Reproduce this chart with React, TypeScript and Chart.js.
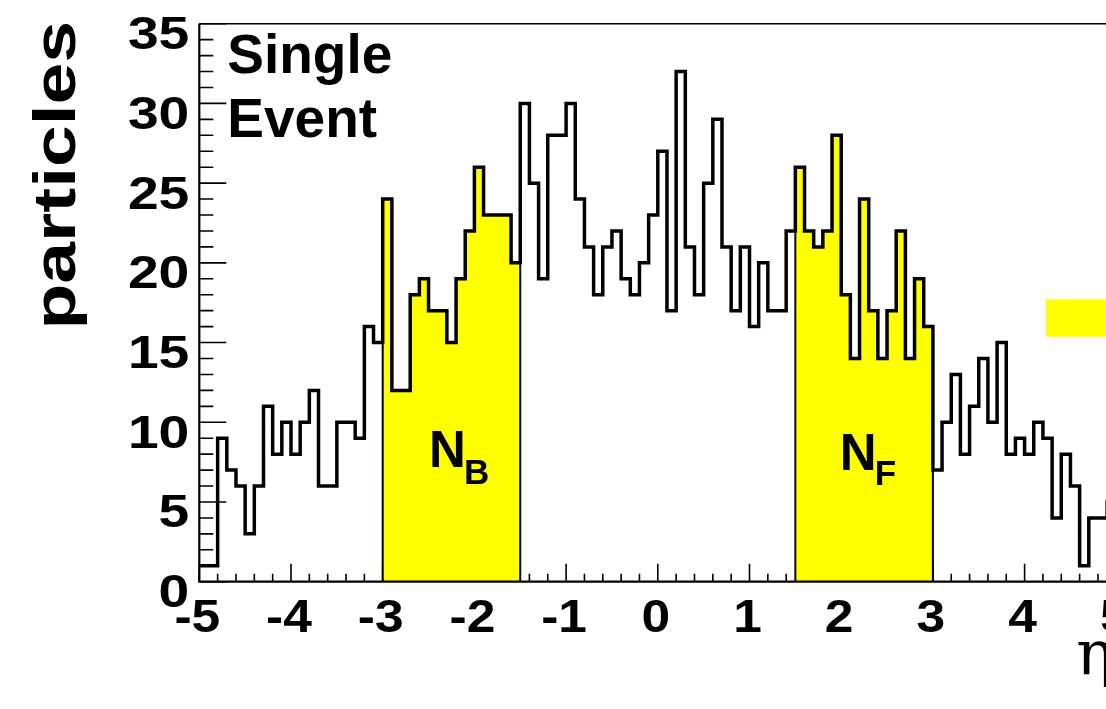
import React, { useEffect, useRef } from "react";
import { Chart, registerables } from "chart.js";

Chart.register(...registerables);

// η binning: 100 bins of width 0.1 over [-5, 5]
const etaLow = -5;
const etaHigh = 5;
const binWidth = 0.1;

// particles per η bin in a single event
const particleCounts = [
  1, 1, 9, 7, 6, 3, 6, 11, 8, 10,
  8, 10, 12, 6, 6, 10, 10, 9, 16, 15,
  24, 12, 12, 18, 19, 17, 17, 15, 19, 22,
  26, 23, 23, 23, 20, 30, 25, 19, 28, 28,
  30, 24, 21, 18, 21, 22, 19, 18, 20, 23,
  27, 17, 32, 21, 18, 25, 29, 21, 17, 21,
  16, 20, 17, 17, 22, 26, 22, 21, 22, 28,
  18, 14, 24, 17, 14, 17, 22, 14, 19, 16,
  7, 10, 13, 8, 11, 14, 10, 15, 8, 9,
  8, 10, 9, 4, 8, 6, 1, 4, 4, 5,
];

// backward (N_B) and forward (N_F) η windows
const backwardWindow = [-3, -1.5];
const forwardWindow = [1.5, 3];

const yTickValues = [0, 5, 10, 15, 20, 25, 30, 35];
const yTickLabels = ["0", "5", "10", "15", "20", "25", "30", "35"];
const xTickValues = [-5, -4, -3, -2, -1, 0, 1, 2, 3, 4, 5];
const xTickLabels = ["-5", "-4", "-3", "-2", "-1", "0", "1", "2", "3", "4", "5"];

// canvas and plot frame geometry (px)
const CANVAS_W = 1160;
const CANVAS_H = 709;
const FRAME_LEFT = 199.3;
const FRAME_RIGHT = 1116.3;
const FRAME_TOP = 23.7;
const FRAME_BOTTOM = 581.7;

const SANS = "'Liberation Sans', Arial, Helvetica, sans-serif";
const SERIF = "'DejaVu Serif', 'Liberation Serif', serif";
const YELLOW = "#ffff00";

const edge = (i: number) => +(etaLow + i * binWidth).toFixed(2);
const binIndex = (eta: number) => Math.round((eta - etaLow) / binWidth);

function histogramPoints() {
  const pts = particleCounts.map((c, i) => ({ x: edge(i), y: c }));
  pts.push({ x: etaHigh, y: particleCounts[particleCounts.length - 1] });
  return pts;
}

function windowPoints(win: number[]) {
  const [lo, hi] = win;
  const a = binIndex(lo);
  const b = binIndex(hi);
  const pts = [{ x: lo, y: 0 }];
  for (let i = a; i < b; i++) pts.push({ x: edge(i), y: particleCounts[i] });
  pts.push({ x: hi, y: particleCounts[b - 1] });
  pts.push({ x: hi, y: 0 });
  return pts;
}

function drawText(
  ctx: CanvasRenderingContext2D,
  text: string,
  x: number,
  y: number,
  font: string,
  align: CanvasTextAlign,
  sx = 1,
  rotate = 0
) {
  ctx.save();
  ctx.translate(x, y);
  if (rotate) ctx.rotate(rotate);
  ctx.scale(sx, 1);
  ctx.font = font;
  ctx.textAlign = align;
  ctx.textBaseline = "alphabetic";
  ctx.fillStyle = "#000";
  ctx.fillText(text, 0, 0);
  ctx.restore();
}

const rootFrame = {
  id: "rootFrame",
  beforeDatasetsDraw(chart: any) {
    const { ctx, chartArea: a, scales } = chart;
    const xs = scales.x;
    const ys = scales.y;
    ctx.save();
    ctx.strokeStyle = "#000";
    ctx.lineWidth = 1.6;
    ctx.beginPath();
    // y ticks: major every 5, minor every 1, pointing into the frame
    for (let v = 0; v <= 35; v++) {
      const py = ys.getPixelForValue(v);
      const len = v % 5 === 0 ? 27 : 14;
      ctx.moveTo(a.left, py);
      ctx.lineTo(a.left + len, py);
    }
    // x ticks: major every 1, minor every 0.2
    for (let k = 0; k <= 50; k++) {
      const v = etaLow + k * 0.2;
      const px = xs.getPixelForValue(v);
      const len = k % 5 === 0 ? 18 : 8;
      ctx.moveTo(px, a.bottom);
      ctx.lineTo(px, a.bottom - len);
    }
    ctx.stroke();
    ctx.restore();
  },
  afterDatasetsDraw(chart: any) {
    const { ctx, chartArea: a, scales } = chart;
    const xs = scales.x;
    const ys = scales.y;
    ctx.save();

    // frame
    ctx.strokeStyle = "#000";
    ctx.lineWidth = 1.5;
    ctx.beginPath();
    ctx.moveTo(a.left, a.top);
    ctx.lineTo(a.right, a.top);
    ctx.lineTo(a.right, a.bottom);
    ctx.stroke();
    ctx.lineWidth = 2.2;
    ctx.beginPath();
    ctx.moveTo(a.left, a.top);
    ctx.lineTo(a.left, a.bottom);
    ctx.lineTo(a.right, a.bottom);
    ctx.stroke();

    // tick labels
    const yFont = `bold 46px ${SANS}`;
    const cap = 0.716 * 46;
    yTickValues.forEach((v, i) => {
      const py = ys.getPixelForValue(v);
      drawText(ctx, yTickLabels[i], a.left - 10, py + cap / 2 + 9, yFont, "right", 1.2);
    });
    const xFont = `bold 46px ${SANS}`;
    xTickValues.forEach((v, i) => {
      const px = xs.getPixelForValue(v);
      drawText(ctx, xTickLabels[i], px - 2, a.bottom + 50, xFont, "center", 1.12);
    });

    // axis titles
    drawText(ctx, "particles", 75, 21, `bold 60px ${SANS}`, "right", 1.25, -Math.PI / 2);
    drawText(ctx, "\u03b7", a.right - 40, 674, `62px ${SERIF}`, "left");

    // event caption
    drawText(ctx, "Single", a.left + 28, 73, `bold 55px ${SANS}`, "left");
    drawText(ctx, "Event", a.left + 28, 137, `bold 55px ${SANS}`, "left");

    // window labels
    const nbX = xs.getPixelForValue(-2.495);
    drawText(ctx, "N", nbX, 467, `bold 51px ${SANS}`, "left");
    drawText(ctx, "B", nbX + 35, 483.5, `bold 35px ${SANS}`, "left");
    const nfX = xs.getPixelForValue(1.985);
    drawText(ctx, "N", nfX, 470, `bold 51px ${SANS}`, "left");
    drawText(ctx, "F", nfX + 35, 485, `bold 35px ${SANS}`, "left");

    // legend swatch
    ctx.fillStyle = YELLOW;
    ctx.fillRect(a.right - 70.3, 299.3, 120, 37.5);

    ctx.restore();
  },
};

export default function App() {
  const ref = useRef<HTMLCanvasElement>(null);

  useEffect(() => {
    const canvas = ref.current;
    if (!canvas) return;
    const stepStyle = {
      stepped: "before" as const,
      pointRadius: 0,
      borderColor: "#000",
      borderJoinStyle: "miter" as const,
      borderCapStyle: "butt" as const,
    };
    const chart = new Chart(canvas, {
      type: "line",
      data: {
        datasets: [
          { ...stepStyle, data: histogramPoints(), borderWidth: 3.5, fill: false, order: 0 },
          { ...stepStyle, data: windowPoints(backwardWindow), borderWidth: 2, backgroundColor: YELLOW, fill: "origin", order: 1 },
          { ...stepStyle, data: windowPoints(forwardWindow), borderWidth: 2, backgroundColor: YELLOW, fill: "origin", order: 1 },
        ],
      },
      options: {
        animation: false,
        responsive: false,
        maintainAspectRatio: false,
        events: [],
        layout: {
          padding: { top: FRAME_TOP, right: CANVAS_W - FRAME_RIGHT, left: 0, bottom: 0 },
        },
        plugins: {
          legend: { display: false },
          tooltip: { enabled: false },
          title: { display: false },
        },
        scales: {
          x: {
            type: "linear",
            min: etaLow,
            max: etaHigh,
            grid: { display: false },
            border: { display: false },
            ticks: { display: false },
            afterBuildTicks: (s: any) => {
              s.ticks = xTickValues.map((value) => ({ value }));
            },
            afterFit: (s: any) => {
              s.height = CANVAS_H - FRAME_BOTTOM;
            },
          },
          y: {
            type: "linear",
            min: 0,
            max: 35,
            grid: { display: false },
            border: { display: false },
            ticks: { display: false },
            afterBuildTicks: (s: any) => {
              s.ticks = yTickValues.map((value) => ({ value }));
            },
            afterFit: (s: any) => {
              s.width = FRAME_LEFT;
            },
          },
        },
      },
      plugins: [rootFrame],
    });
    return () => chart.destroy();
  }, []);

  return (
    <div
      style={{
        position: "fixed",
        left: 0,
        top: 0,
        width: 1106,
        height: 709,
        overflow: "hidden",
        background: "#fff",
      }}
    >
      <canvas
        ref={ref}
        width={CANVAS_W}
        height={CANVAS_H}
        style={{ display: "block", width: CANVAS_W, height: CANVAS_H }}
      />
    </div>
  );
}
